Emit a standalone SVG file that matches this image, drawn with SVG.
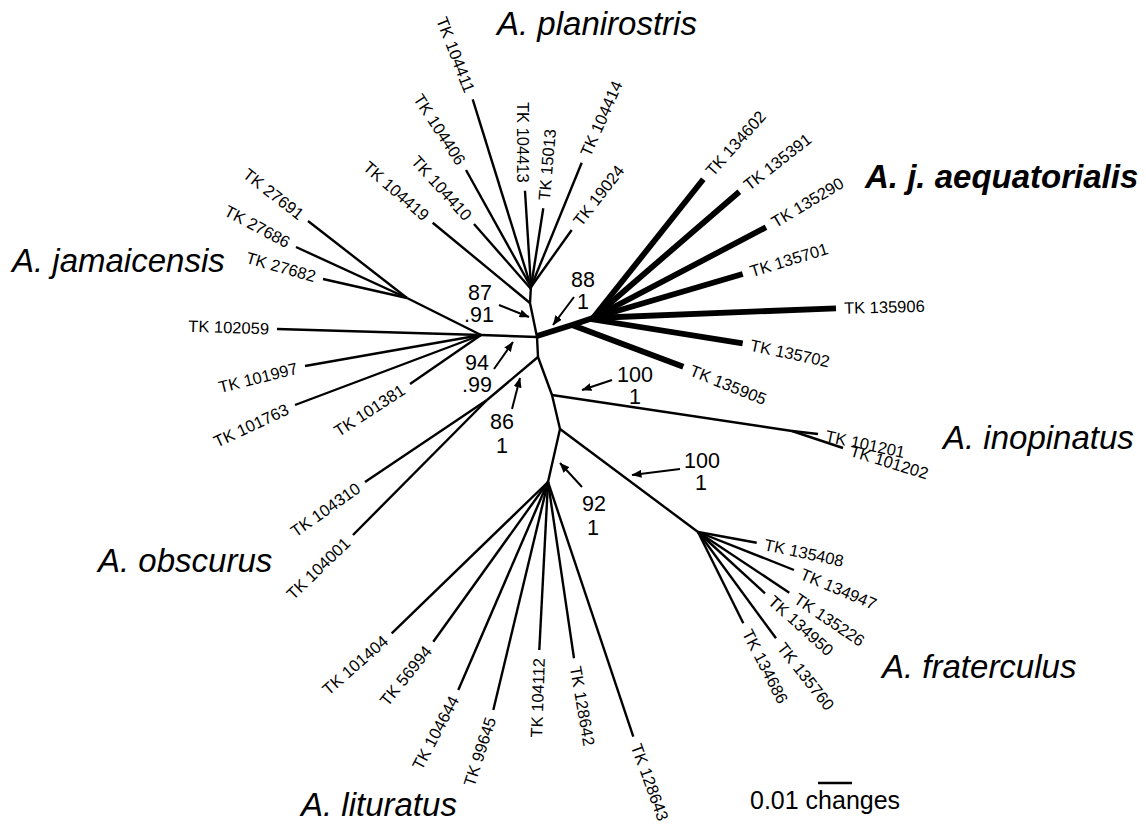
<svg xmlns="http://www.w3.org/2000/svg" width="1146" height="826" viewBox="0 0 1146 826">
<defs>
<style>
.br{fill:none;stroke:#000;stroke-width:2.4;stroke-linecap:butt;stroke-linejoin:round}
.bt{fill:none;stroke:#000;stroke-width:5.8;stroke-linecap:butt;stroke-linejoin:round}
.tip{font-family:"Liberation Sans",Arial,sans-serif;font-size:16.5px;fill:#000}
.tl{text-anchor:end}
.clade{font-family:"Liberation Sans",Arial,sans-serif;font-size:33px;font-style:italic;fill:#000}
.num{font-family:"Liberation Sans",Arial,sans-serif;font-size:21.5px;fill:#000;text-anchor:middle}
.arr{stroke:#000;stroke-width:2;fill:none}
</style>
<marker id="ah" viewBox="0 0 10 8" refX="9.5" refY="4" markerWidth="10" markerHeight="8" orient="auto" markerUnits="userSpaceOnUse"><path d="M0,0 L10,4 L0,8 z" fill="#000"/></marker>
</defs>
<rect width="1146" height="826" fill="#fff"/>

<g id="connectors">
<!-- backbone -->
<polyline class="br" points="531,285 530,303 537,337 538,357 552,395 560,429 548,482"/>
<!-- planirostris -->
<line class="br" x1="531" y1="287" x2="472.7" y2="99.3"/>
<line class="br" x1="531" y1="287" x2="466" y2="170"/>
<line class="br" x1="531" y1="287" x2="525" y2="190.7"/>
<line class="br" x1="531" y1="287" x2="543.3" y2="208.3"/>
<line class="br" x1="531" y1="287" x2="581.7" y2="162.7"/>
<line class="br" x1="531" y1="287" x2="571.7" y2="230"/>
<line class="br" x1="531" y1="289" x2="474" y2="224"/>
<line class="br" x1="530" y1="303" x2="432.7" y2="222.7"/>
<!-- jamaicensis -->
<line class="br" x1="537" y1="337" x2="481" y2="335"/>
<line class="br" x1="481" y1="335" x2="407" y2="298"/>
<line class="br" x1="407" y1="298" x2="308" y2="221"/>
<line class="br" x1="407" y1="298" x2="296" y2="247"/>
<line class="br" x1="407" y1="298" x2="323" y2="279"/>
<line class="br" x1="481" y1="335" x2="277" y2="329"/>
<line class="br" x1="481" y1="335" x2="305" y2="366"/>
<line class="br" x1="481" y1="335" x2="295" y2="405"/>
<line class="br" x1="481" y1="335" x2="410" y2="384"/>
<!-- obscurus -->
<line class="br" x1="538" y1="357" x2="487" y2="400"/>
<line class="br" x1="487" y1="400" x2="365" y2="482"/>
<line class="br" x1="487" y1="400" x2="353" y2="535"/>
<!-- inopinatus -->
<line class="br" x1="552" y1="395" x2="792" y2="431"/>
<line class="br" x1="792" y1="431" x2="818" y2="434"/>
<line class="br" x1="792" y1="431" x2="843" y2="448"/>
<!-- fraterculus -->
<line class="br" x1="560" y1="429" x2="698" y2="532"/>
<line class="br" x1="698" y1="532" x2="756.7" y2="542.7"/>
<line class="br" x1="698" y1="532" x2="794" y2="570"/>
<line class="br" x1="698" y1="532" x2="789.3" y2="592.7"/>
<line class="br" x1="698" y1="532" x2="765" y2="593.3"/>
<line class="br" x1="698" y1="532" x2="776" y2="638.3"/>
<line class="br" x1="698" y1="532" x2="743.3" y2="623.3"/>
<!-- lituratus -->
<line class="br" x1="548" y1="482" x2="391.7" y2="633.3"/>
<line class="br" x1="548" y1="482" x2="433.3" y2="641.7"/>
<line class="br" x1="548" y1="482" x2="458.3" y2="690"/>
<line class="br" x1="548" y1="482" x2="493.3" y2="710"/>
<line class="br" x1="548" y1="482" x2="539.3" y2="650"/>
<line class="br" x1="548" y1="482" x2="574" y2="658.3"/>
<line class="br" x1="548" y1="482" x2="633.3" y2="736.7"/>
<!-- aequatorialis (thick) -->
<polyline class="bt" points="537,336 572,325 593,318"/>
<line class="bt" x1="572" y1="325" x2="683.3" y2="366.7"/>
<line class="bt" x1="593" y1="318" x2="703.3" y2="179.3"/>
<line class="bt" x1="593" y1="318" x2="739.3" y2="191.7"/>
<line class="bt" x1="593" y1="318" x2="766" y2="227.3"/>
<line class="bt" x1="593" y1="318" x2="742.7" y2="274"/>
<line class="bt" x1="593" y1="318" x2="836" y2="308.3"/>
<line class="bt" x1="590" y1="319" x2="742.7" y2="343.3"/>
</g>

<g id="tip-labels">
<g id="TK104411"><text class="tip tl" transform="translate(472.7,99.3) rotate(69)" x="-8" dy=".35em">TK 104411</text></g>
<g id="TK104406"><text class="tip tl" transform="translate(466,170) rotate(57)" x="-8" dy=".35em">TK 104406</text></g>
<g id="TK104410"><text class="tip tl" transform="translate(474,224) rotate(48)" x="-8" dy=".35em">TK 104410</text></g>
<g id="TK104419"><text class="tip tl" transform="translate(432.7,222.7) rotate(41)" x="-8" dy=".35em">TK 104419</text></g>
<g id="TK104413"><text class="tip tl" transform="translate(523,190.7) rotate(90)" x="-8" dy=".35em">TK 104413</text></g>
<g id="TK15013"><text class="tip" transform="translate(543.3,208.3) rotate(-85)" x="8" dy=".35em">TK 15013</text></g>
<g id="TK104414"><text class="tip" transform="translate(581.7,162.7) rotate(-66)" x="8" dy=".35em">TK 104414</text></g>
<g id="TK19024"><text class="tip" transform="translate(571.7,230) rotate(-52)" x="8" dy=".35em">TK 19024</text></g>

<g id="TK27691"><text class="tip tl" transform="translate(308,221) rotate(38)" x="-8" dy=".35em">TK 27691</text></g>
<g id="TK27686"><text class="tip tl" transform="translate(296,247) rotate(28)" x="-8" dy=".35em">TK 27686</text></g>
<g id="TK27682"><text class="tip tl" transform="translate(323,279) rotate(16)" x="-8" dy=".35em">TK 27682</text></g>
<g id="TK102059"><text class="tip tl" transform="translate(277,329) rotate(2)" x="-8" dy=".35em">TK 102059</text></g>
<g id="TK101997"><text class="tip tl" transform="translate(305,366) rotate(-14)" x="-8" dy=".35em">TK 101997</text></g>
<g id="TK101763"><text class="tip tl" transform="translate(295,405) rotate(-25)" x="-8" dy=".35em">TK 101763</text></g>
<g id="TK101381"><text class="tip tl" transform="translate(410,384) rotate(-33)" x="-8" dy=".35em">TK 101381</text></g>

<g id="TK104310"><text class="tip tl" transform="translate(365,482) rotate(-35)" x="-8" dy=".35em">TK 104310</text></g>
<g id="TK104001"><text class="tip tl" transform="translate(353,535) rotate(-44)" x="-8" dy=".35em">TK 104001</text></g>

<g id="TK101404"><text class="tip tl" transform="translate(391.7,633.3) rotate(-41)" x="-8" dy=".35em">TK 101404</text></g>
<g id="TK56994"><text class="tip tl" transform="translate(433.3,641.7) rotate(-51)" x="-8" dy=".35em">TK 56994</text></g>
<g id="TK104644"><text class="tip tl" transform="translate(458.3,690) rotate(-62)" x="-8" dy=".35em">TK 104644</text></g>
<g id="TK99645"><text class="tip tl" transform="translate(493.3,710) rotate(-72)" x="-8" dy=".35em">TK 99645</text></g>
<g id="TK104112"><text class="tip tl" transform="translate(539.3,650) rotate(-88)" x="-8" dy=".35em">TK 104112</text></g>
<g id="TK128642"><text class="tip" transform="translate(574,658.3) rotate(80)" x="8" dy=".35em">TK 128642</text></g>
<g id="TK128643"><text class="tip" transform="translate(633.3,736.7) rotate(70)" x="8" dy=".35em">TK 128643</text></g>

<g id="TK135408"><text class="tip" transform="translate(756.7,542.7) rotate(12)" x="8" dy=".35em">TK 135408</text></g>
<g id="TK134947"><text class="tip" transform="translate(794,570) rotate(23)" x="8" dy=".35em">TK 134947</text></g>
<g id="TK135226"><text class="tip" transform="translate(789.3,592.7) rotate(34)" x="8" dy=".35em">TK 135226</text></g>
<g id="TK134950"><text class="tip" transform="translate(765,593.3) rotate(42)" x="8" dy=".35em">TK 134950</text></g>
<g id="TK135760"><text class="tip" transform="translate(776,638.3) rotate(52)" x="8" dy=".35em">TK 135760</text></g>
<g id="TK134686"><text class="tip" transform="translate(743.3,623.3) rotate(63)" x="8" dy=".35em">TK 134686</text></g>

<g id="TK101201"><text class="tip" transform="translate(818,434) rotate(12)" x="8" dy=".35em">TK 101201</text></g>
<g id="TK101202"><text class="tip" transform="translate(843,448) rotate(17)" x="8" dy=".35em">TK 101202</text></g>

<g id="TK134602"><text class="tip" transform="translate(703.3,179.3) rotate(-48)" x="8" dy=".35em">TK 134602</text></g>
<g id="TK135391"><text class="tip" transform="translate(739.3,191.7) rotate(-38)" x="8" dy=".35em">TK 135391</text></g>
<g id="TK135290"><text class="tip" transform="translate(766,227.3) rotate(-31)" x="8" dy=".35em">TK 135290</text></g>
<g id="TK135701"><text class="tip" transform="translate(742.7,274) rotate(-17)" x="8" dy=".35em">TK 135701</text></g>
<g id="TK135906"><text class="tip" transform="translate(836,308.3) rotate(-1.5)" x="8" dy=".35em">TK 135906</text></g>
<g id="TK135702"><text class="tip" transform="translate(742.7,343.3) rotate(12)" x="8" dy=".35em">TK 135702</text></g>
<g id="TK135905"><text class="tip" transform="translate(683.3,366.7) rotate(22)" x="8" dy=".35em">TK 135905</text></g>
</g>

<g id="clade-labels">
<g id="planirostris"><text class="clade" x="497" y="35">A. planirostris</text></g>
<g id="jamaicensis"><text class="clade" x="12" y="272">A. jamaicensis</text></g>
<g id="aequatorialis"><text class="clade" x="865" y="188" font-weight="bold">A. j. aequatorialis</text></g>
<g id="inopinatus"><text class="clade" x="943" y="449">A. inopinatus</text></g>
<g id="obscurus"><text class="clade" x="98" y="572">A. obscurus</text></g>
<g id="fraterculus"><text class="clade" x="882" y="678">A. fraterculus</text></g>
<g id="lituratus"><text class="clade" x="301" y="816">A. lituratus</text></g>
</g>

<g id="support-values">
<g id="s87"><text class="num" x="480" y="300">87</text><text class="num" x="479" y="322">.91</text><line class="arr" x1="499" y1="305" x2="529" y2="317" marker-end="url(#ah)"/></g>
<g id="s88"><text class="num" x="583" y="287">88</text><text class="num" x="583" y="309">1</text><line class="arr" x1="574" y1="297" x2="553" y2="325" marker-end="url(#ah)"/></g>
<g id="s94"><text class="num" x="477" y="370">94</text><text class="num" x="477" y="392">.99</text><line class="arr" x1="494" y1="369" x2="513" y2="342" marker-end="url(#ah)"/></g>
<g id="s86"><text class="num" x="502" y="429">86</text><text class="num" x="502" y="453">1</text><line class="arr" x1="512" y1="409" x2="520" y2="378" marker-end="url(#ah)"/></g>
<g id="s100a"><text class="num" x="635" y="382">100</text><text class="num" x="635" y="404">1</text><line class="arr" x1="612" y1="380" x2="582" y2="390" marker-end="url(#ah)"/></g>
<g id="s100b"><text class="num" x="702" y="468">100</text><text class="num" x="701" y="490">1</text><line class="arr" x1="680" y1="469" x2="632" y2="475" marker-end="url(#ah)"/></g>
<g id="s92"><text class="num" x="594" y="511">92</text><text class="num" x="593" y="535">1</text><line class="arr" x1="582" y1="487" x2="560" y2="463" marker-end="url(#ah)"/></g>
</g>

<g id="scale-bar">
<line x1="818" y1="783" x2="852" y2="783" stroke="#000" stroke-width="2.5"/>
<text x="750" y="809" font-family="Liberation Sans, Arial, sans-serif" font-size="25" fill="#000">0.01 changes</text>
</g>
</svg>
